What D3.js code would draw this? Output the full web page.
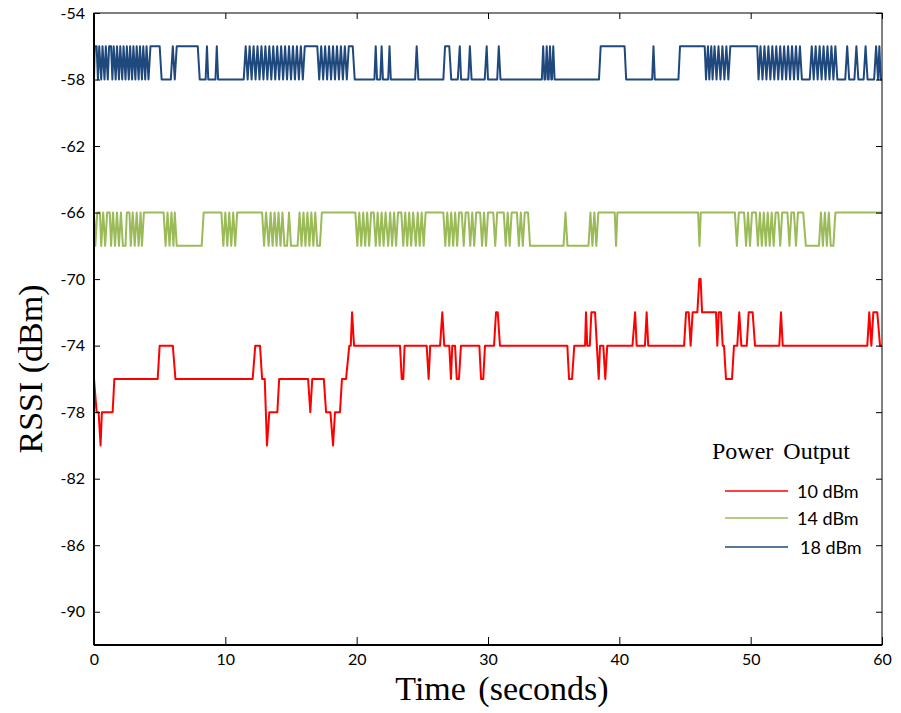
<!DOCTYPE html>
<html>
<head>
<meta charset="utf-8">
<script src="https://cdn.jsdelivr.net/npm/d3@7"></script>
<style>
  body { margin: 0; background: #fff; }
  .tick text { font-family: Lato, "Open Sans", sans-serif; font-size: 16px; fill: #000; }
  .tick line { stroke: #000; }
</style>
</head>
<body>
<div id="chart"></div>
<script>
// tick labels
const xTicks = [0, 10, 20, 30, 40, 50, 60];
const yTicks = [-54, -58, -62, -66, -70, -74, -78, -82, -86, -90];

// legend
const seriesNames = ['10 dBm', '14 dBm', '18 dBm'];
const seriesColors = ['#ff0000', '#9bbb59', '#1f497d'];

// [time (s), RSSI (dBm)] vertices
const rssi10 = [
  [0, -76], [0.2, -78], [0.35, -78], [0.5, -80], [0.6, -78], [1.42, -78], [1.55, -76],
  [4.85, -76], [5.0, -74], [6.0, -74], [6.2, -76],
  [12.08, -76], [12.28, -74], [12.64, -74], [12.8, -76], [13.0, -76], [13.17, -80], [13.35, -78], [13.96, -78], [14.1, -76],
  [16.3, -76], [16.47, -78], [16.62, -76], [17.5, -76], [17.67, -78], [18.0, -78], [18.2, -80], [18.35, -78], [18.73, -78], [18.88, -76],
  [19.19, -76], [19.44, -74], [19.55, -74], [19.65, -72], [19.8, -74],
  [23.3, -74], [23.43, -76], [23.55, -76], [23.65, -74],
  [25.33, -74], [25.48, -76], [25.6, -74],
  [26.35, -74], [26.52, -72], [26.67, -74],
  [27.05, -74], [27.18, -76], [27.28, -74], [27.49, -74], [27.62, -76], [27.79, -76], [27.94, -74],
  [29.34, -74], [29.47, -76], [29.64, -76], [29.77, -74],
  [30.46, -74], [30.61, -72], [30.74, -72], [30.91, -74],
  [36.04, -74], [36.17, -76], [36.4, -76], [36.57, -74],
  [37.39, -74], [37.46, -72], [37.56, -74], [37.75, -74], [37.87, -72], [38.15, -72], [38.43, -76], [38.53, -74],
  [38.78, -74], [38.93, -76], [39.08, -74],
  [41.0, -74], [41.2, -72], [41.32, -74],
  [41.95, -74], [42.08, -72], [42.2, -74],
  [44.93, -74], [45.08, -72], [45.28, -72], [45.43, -74], [45.58, -72], [45.94, -72], [46.09, -70], [46.19, -70], [46.3, -72],
  [47.36, -72], [47.46, -74], [47.57, -72], [47.74, -72], [47.87, -74], [47.97, -74], [48.12, -76], [48.58, -76], [48.73, -74],
  [48.98, -74], [49.13, -72], [49.29, -74], [49.7, -74], [49.85, -72], [50.15, -72], [50.33, -74],
  [52.18, -74], [52.31, -72], [52.44, -74],
  [58.88, -74], [59.03, -72], [59.19, -74], [59.34, -72], [59.64, -72], [59.85, -74], [60, -74]
];

const rssi14 = [
  [0, -66], [0.1, -68], [0.25, -66], [0.45, -66], [0.55, -68], [0.7, -66], [0.85, -68], [1.0, -66], [1.2, -66], [1.3, -68],
  [1.45, -66], [1.6, -68], [1.75, -66], [1.9, -68], [2.05, -66], [2.2, -68], [2.4, -68], [2.5, -66], [2.7, -66], [2.8, -68],
  [2.95, -66], [3.1, -68], [3.25, -66], [3.4, -68], [3.55, -66], [3.65, -68], [3.8, -66],
  [5.3, -66], [5.45, -68], [5.6, -66], [5.75, -68], [5.9, -66], [6.05, -68], [6.15, -66], [6.3, -68],
  [8.2, -68], [8.35, -66], [9.7, -66], [9.85, -68], [10.0, -66], [10.15, -68], [10.3, -66], [10.45, -68], [10.6, -66], [10.75, -68], [10.9, -66],
  [12.8, -66], [12.95, -68], [13.1, -66], [13.3, -68], [13.45, -66], [13.6, -68], [13.75, -66], [13.9, -68], [14.05, -66], [14.2, -68],
  [14.35, -66], [14.5, -68], [14.7, -68], [14.85, -66], [15.0, -68], [15.5, -68], [15.65, -66], [15.8, -68], [15.95, -66], [16.1, -68],
  [16.25, -66], [16.4, -68], [16.55, -66], [16.7, -68], [16.85, -66], [17.0, -68], [17.2, -68], [17.35, -66],
  [19.9, -66], [20.05, -68], [20.2, -66], [20.35, -68], [20.5, -66], [20.65, -68], [20.8, -66], [20.95, -68], [21.1, -66], [21.3, -66],
  [21.45, -68], [21.6, -66], [21.75, -68], [21.9, -66], [22.05, -68], [22.2, -66], [22.4, -68], [22.55, -66], [22.7, -68], [22.85, -66],
  [23.0, -68], [23.15, -66], [23.4, -66], [23.55, -68], [23.7, -66], [23.85, -68], [24.0, -66], [24.15, -68], [24.3, -66], [24.5, -68],
  [24.65, -66], [24.8, -68], [24.95, -66], [25.1, -68], [25.25, -66],
  [26.6, -66], [26.75, -68], [26.9, -66], [27.05, -68], [27.2, -66], [27.35, -68], [27.5, -66], [27.65, -68], [27.8, -66], [28.0, -66],
  [28.15, -68], [28.3, -66], [28.5, -66], [28.65, -68], [28.8, -66], [28.95, -68], [29.1, -66], [29.4, -66], [29.55, -68], [29.7, -66],
  [29.85, -68], [30.0, -66], [30.4, -66], [30.55, -68], [30.7, -66], [31.2, -66], [31.35, -68], [31.5, -66], [31.65, -68], [31.8, -66],
  [32.2, -66], [32.35, -68], [32.5, -66], [32.65, -68], [32.8, -66], [33.05, -66], [33.2, -68],
  [35.75, -68], [35.9, -66], [36.05, -68], [37.65, -68], [37.8, -66], [37.95, -68], [38.1, -66], [38.25, -68], [38.4, -66],
  [39.65, -66], [39.75, -68], [39.85, -66], [46.0, -66], [46.1, -68], [46.2, -66],
  [48.8, -66], [48.95, -68], [49.1, -66], [49.5, -66], [49.65, -68], [49.8, -66], [49.95, -68], [50.1, -66], [50.4, -66], [50.55, -68],
  [50.7, -66], [50.85, -68], [51.0, -66], [51.15, -68], [51.3, -66], [51.45, -68], [51.6, -66], [51.75, -68], [51.9, -66], [52.1, -66],
  [52.25, -68], [52.4, -66], [52.8, -66], [52.95, -68], [53.1, -66], [53.3, -66], [53.45, -68], [53.6, -66], [54.0, -66], [54.2, -68],
  [55.2, -68], [55.35, -66], [55.5, -68], [55.65, -66], [55.8, -68], [55.95, -66], [56.1, -68], [56.3, -68], [56.45, -66], [60, -66]
];

const rssi18 = [
  [0, -58], [0.05, -56], [0.2, -56], [0.3, -58], [0.4, -56], [0.55, -58], [0.65, -56], [0.8, -58], [0.9, -56], [1.05, -58],
  [1.15, -56], [1.3, -56], [1.4, -58], [1.5, -56], [1.65, -58], [1.75, -56], [1.9, -58], [2.0, -56], [2.15, -58], [2.25, -56],
  [2.4, -58], [2.5, -56], [2.65, -58], [2.75, -56], [2.9, -58], [3.0, -56], [3.15, -58], [3.25, -56], [3.4, -58], [3.5, -56],
  [3.65, -58], [3.75, -56], [3.9, -58], [4.0, -56], [4.15, -58], [4.3, -56], [5.0, -56], [5.15, -58], [5.85, -58], [6.0, -56],
  [6.15, -58], [6.3, -56], [7.9, -56], [8.05, -58], [8.5, -58], [8.6, -56], [8.7, -58], [9.25, -58], [9.35, -56], [9.45, -58],
  [11.4, -58], [11.55, -56], [11.7, -58], [11.85, -56], [12.0, -58], [12.15, -56], [12.3, -58], [12.45, -56], [12.6, -58], [12.75, -56],
  [12.9, -58], [13.05, -56], [13.2, -58], [13.35, -56], [13.5, -58], [13.65, -56], [13.8, -58], [13.95, -56], [14.1, -58], [14.25, -56],
  [14.4, -58], [14.55, -56], [14.7, -58], [14.85, -56], [15.0, -58], [15.15, -56], [15.3, -58], [15.45, -56], [15.6, -58], [15.75, -56],
  [15.9, -58], [16.05, -56], [17.0, -56], [17.15, -58], [17.3, -56], [17.45, -58], [17.6, -56], [17.75, -58], [17.9, -56], [18.05, -58],
  [18.2, -56], [18.35, -58], [18.5, -56], [18.65, -58], [18.8, -56], [18.95, -58], [19.1, -56], [19.25, -58], [19.4, -56], [19.7, -56],
  [19.85, -58], [21.35, -58], [21.45, -56], [21.55, -58], [21.8, -58], [21.9, -56], [22.0, -58], [22.4, -58], [22.5, -56], [22.6, -58],
  [24.45, -58], [24.57, -56], [24.7, -58], [26.6, -58], [26.73, -56], [27.05, -56], [27.2, -58], [27.7, -58], [27.85, -56], [27.95, -58],
  [28.5, -58], [28.62, -56], [28.75, -58], [29.75, -58], [29.9, -56], [30.0, -58], [30.7, -58], [30.82, -56], [30.95, -58],
  [34.1, -58], [34.2, -56], [34.3, -58], [34.37, -58], [34.47, -56], [34.57, -58], [34.62, -58], [34.72, -56], [34.82, -58], [34.87, -58],
  [34.97, -56], [35.07, -58], [38.45, -58], [38.58, -56], [40.4, -56], [40.52, -58], [42.5, -58], [42.6, -56], [42.7, -58], [44.5, -58],
  [44.62, -56], [46.5, -56], [46.6, -58], [46.75, -56], [46.85, -58], [47.0, -56], [47.1, -58], [47.25, -56], [47.4, -58], [47.55, -56],
  [47.7, -58], [47.85, -56], [48.0, -58], [48.15, -56], [48.3, -58], [48.45, -56], [50.5, -56], [50.6, -58], [50.75, -56], [50.9, -58],
  [51.05, -56], [51.2, -58], [51.35, -56], [51.5, -58], [51.65, -56], [51.8, -58], [51.95, -56], [52.1, -58], [52.25, -56], [52.4, -58],
  [52.55, -56], [52.7, -58], [52.85, -56], [53.0, -58], [53.15, -56], [53.3, -58], [53.45, -56], [53.6, -58], [53.75, -56], [53.9, -58],
  [54.5, -58], [54.65, -56], [54.8, -58], [54.95, -56], [55.1, -58], [55.25, -56], [55.4, -58], [55.55, -56], [55.7, -58], [55.85, -56],
  [56.0, -58], [56.15, -56], [56.3, -58], [56.45, -56], [56.6, -58], [57.2, -58], [57.35, -56], [57.5, -58], [57.9, -58], [58.05, -56],
  [58.2, -58], [58.6, -58], [58.75, -56], [58.9, -58], [59.4, -58], [59.55, -56], [59.7, -58], [59.8, -56], [59.9, -58], [60, -58]
];

const allSeries = [rssi10, rssi14, rssi18];

// dimensions
let dimensions = {
  width: 901,
  height: 713,
  margin: { top: 13, right: 19, bottom: 68, left: 94 }
};
dimensions.boundW = dimensions.width - dimensions.margin.left - dimensions.margin.right;
dimensions.boundH = dimensions.height - dimensions.margin.top - dimensions.margin.bottom;

const svg = d3.select('#chart').append('svg')
  .attr('width', dimensions.width)
  .attr('height', dimensions.height);

const bounds = svg.append('g')
  .attr('transform', `translate(${dimensions.margin.left},${dimensions.margin.top})`);

// scales
const xScale = d3.scaleLinear().domain([0, 60]).range([0, dimensions.boundW]);
const yScale = d3.scaleLinear().domain([-92, -54]).range([dimensions.boundH, 0]);

// lines
const lineGenerator = d3.line()
  .x(d => xScale(d[0]))
  .y(d => yScale(d[1]));

allSeries.forEach((s, i) => {
  bounds.append('path')
    .attr('d', lineGenerator(s))
    .attr('fill', 'none')
    .attr('stroke', seriesColors[i])
    .attr('stroke-width', 2)
    .attr('stroke-linejoin', 'round');
});

// axes, ticks pointing inward (plain hyphen for the minus sign)
const plain = d => String(d);

const yAxis = bounds.append('g')
  .call(d3.axisLeft(yScale).tickValues(yTicks).tickSize(-6).tickPadding(9).tickFormat(plain));
yAxis.select('.domain').remove();

const yAxisRight = bounds.append('g')
  .attr('transform', `translate(${dimensions.boundW},0)`)
  .call(d3.axisRight(yScale).tickValues(yTicks).tickSize(-6).tickFormat(''));
yAxisRight.select('.domain').remove();

const xAxis = bounds.append('g')
  .attr('transform', `translate(0,${dimensions.boundH})`)
  .call(d3.axisBottom(xScale).tickValues(xTicks).tickSize(-8).tickPadding(9).tickFormat(plain));
xAxis.select('.domain').remove();

const xAxisTop = bounds.append('g')
  .call(d3.axisTop(xScale).tickValues(xTicks).tickSize(-6).tickFormat(''));
xAxisTop.select('.domain').remove();

// frame
bounds.append('rect')
  .attr('width', dimensions.boundW)
  .attr('height', dimensions.boundH)
  .attr('fill', 'none')
  .attr('stroke', '#000')
  .attr('stroke-width', 1);
bounds.append('line')
  .attr('x1', 0).attr('x2', 0).attr('y1', 0).attr('y2', dimensions.boundH)
  .attr('stroke', '#000').attr('stroke-width', 2);
bounds.append('line')
  .attr('x1', 0).attr('x2', dimensions.boundW).attr('y1', dimensions.boundH).attr('y2', dimensions.boundH)
  .attr('stroke', '#000').attr('stroke-width', 2);

// axis titles
svg.append('text')
  .attr('transform', `translate(42,${dimensions.margin.top + dimensions.boundH / 2 + 40}) rotate(-90)`)
  .attr('text-anchor', 'middle')
  .style('font-family', '"Liberation Serif", "Times New Roman", serif')
  .style('font-size', '34px')
  .text('RSSI (dBm)');

svg.append('text')
  .attr('x', 502)
  .attr('y', 700)
  .attr('text-anchor', 'middle')
  .style('font-family', '"Liberation Serif", "Times New Roman", serif')
  .style('font-size', '34px')
  .style('word-spacing', '4px')
  .text('Time (seconds)');

// legend
const legend = svg.append('g');
legend.append('text')
  .attr('x', 712)
  .attr('y', 459)
  .style('font-family', '"Liberation Serif", "Times New Roman", serif')
  .style('font-size', '24px')
  .style('word-spacing', '4px')
  .text('Power Output');

const legendY = [491, 518, 547];
seriesNames.forEach((name, i) => {
  legend.append('line')
    .attr('x1', 725).attr('x2', 788)
    .attr('y1', legendY[i]).attr('y2', legendY[i])
    .attr('stroke', seriesColors[i])
    .attr('stroke-width', 1.5);
  legend.append('text')
    .attr('x', i === 2 ? 800 : 797)
    .attr('y', legendY[i] + 7)
    .style('font-family', 'Lato, "Open Sans", sans-serif')
    .style('font-size', '18px')
    .text(name);
});
</script>
</body>
</html>
